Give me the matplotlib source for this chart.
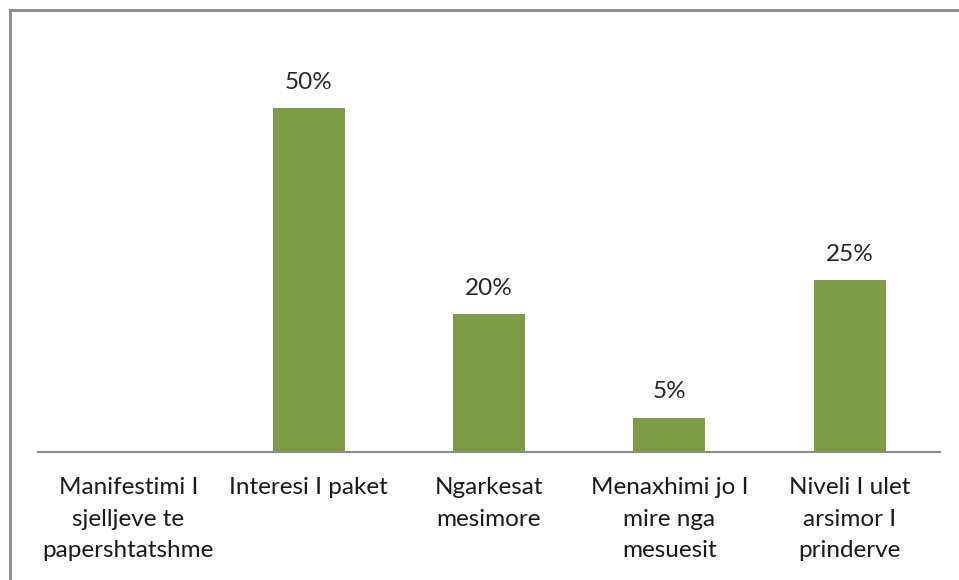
import matplotlib
matplotlib.use("Agg")
import matplotlib.pyplot as plt
from matplotlib.lines import Line2D

categories = ["Manifestimi I\nsjelljeve te\npapershtatshme", "Interesi I paket",
              "Ngarkesat\nmesimore", "Menaxhimi jo I\nmire nga\nmesuesit",
              "Niveli I ulet\narsimor I\nprinderve"]
values = [0.0, 0.50, 0.20, 0.05, 0.25]
value_labels = ["", "50%", "20%", "5%", "25%"]

plt.rcParams['font.family'] = ['Lato', 'DejaVu Sans']
W, H = 959, 580
fig = plt.figure(figsize=(W/100, H/100), dpi=100)
ax = fig.add_axes([38/W, (H-452)/H, (940-38)/W, (452-40)/H])

x = list(range(len(categories)))
bars = ax.bar(x, values, width=0.4, color="#7F9B48")
for xi, v, lab in zip(x, values, value_labels):
    if lab:
        ax.annotate(lab, (xi, v), xytext=(0, 11), textcoords="offset points",
                    ha="center", va="bottom", fontsize=17.5, color="#262626")

ax.set_xlim(-0.5, 4.5)
ax.set_ylim(0, 0.5988)
ax.set_xticks(x)
ax.set_xticklabels(categories, fontsize=17.5, color="#1a1a1a", linespacing=1.63, va="top")
ax.tick_params(axis="x", length=0, pad=18)
ax.set_yticks([])
for s in ["top", "right", "left"]:
    ax.spines[s].set_visible(False)
ax.spines["bottom"].set_color("#8c8c8c")
ax.spines["bottom"].set_linewidth(1.5)

# outer border (left and top)
fig.add_artist(Line2D([9.5/W, 9.5/W], [0, (H-10)/H], transform=fig.transFigure, color="#8a8a8a", lw=2))
fig.add_artist(Line2D([9.5/W, 1], [(H-10)/H, (H-10)/H], transform=fig.transFigure, color="#8a8a8a", lw=2))

fig.savefig("out.png", dpi=100)
